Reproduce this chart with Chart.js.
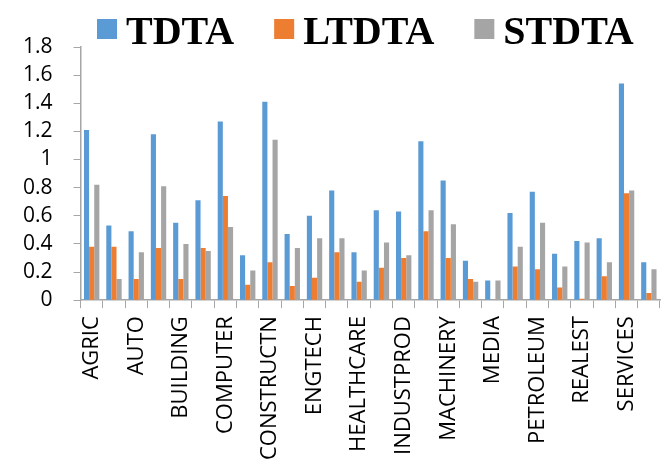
<html>

<head>
    <script src="https://cdn.jsdelivr.net/npm/chart.js"></script>
    <style>
        body { margin: 0; background: #fff; }
    </style>
</head>

<body>
    <canvas id="chart_id" width="668" height="468"></canvas>
    <script>
        // 카테고리 (홀수 번째는 라벨 없음)
        const categories = [
            'AGRIC', '', 'AUTO', '', 'BUILDING', '', 'COMPUTER', '',
            'CONSTRUCTN', '', 'ENGTECH', '', 'HEALTHCARE', '', 'INDUSTPROD', '',
            'MACHINERY', '', 'MEDIA', '', 'PETROLEUM', '', 'REALEST', '',
            'SERVICES', ''
        ];
        const tdta = [1.21, 0.53, 0.49, 1.18, 0.55, 0.71, 1.27, 0.32,
            1.41, 0.47, 0.60, 0.78, 0.34, 0.64, 0.63, 1.13,
            0.85, 0.28, 0.14, 0.62, 0.77, 0.33, 0.42, 0.44,
            1.54, 0.27];
        const ltdta = [0.38, 0.38, 0.15, 0.37, 0.15, 0.37, 0.74, 0.11,
            0.27, 0.10, 0.16, 0.34, 0.13, 0.23, 0.30, 0.49,
            0.30, 0.15, 0.00, 0.24, 0.22, 0.09, 0.01, 0.17,
            0.76, 0.05];
        const stdta = [0.82, 0.15, 0.34, 0.81, 0.40, 0.35, 0.52, 0.21,
            1.14, 0.37, 0.44, 0.44, 0.21, 0.41, 0.32, 0.64,
            0.54, 0.13, 0.14, 0.38, 0.55, 0.24, 0.41, 0.27,
            0.78, 0.22];

        const axisColor = '#A6A6A6';

        // 범례 직접 그리기 (상자-글자 간격을 좁게)
        const topLegend = {
            id: 'topLegend',
            afterDraw(chart) {
                const ctx = chart.ctx;
                ctx.save();
                ctx.font = 'bold 40px "Liberation Serif"';
                ctx.textBaseline = 'alphabetic';
                ctx.textAlign = 'left';
                let x = 97;
                chart.data.datasets.forEach(ds => {
                    ctx.fillStyle = ds.backgroundColor;
                    ctx.fillRect(x, 19, 20, 20);
                    x += 29;
                    ctx.fillStyle = '#000';
                    ctx.fillText(ds.label, x, 44);
                    x += ctx.measureText(ds.label).width + 40;
                });
                ctx.restore();
            }
        };

        new Chart(document.getElementById('chart_id'), {
            type: 'bar',
            data: {
                labels: categories,
                datasets: [
                    { label: 'TDTA', data: tdta, backgroundColor: '#5B9BD5' },
                    { label: 'LTDTA', data: ltdta, backgroundColor: '#ED7D31' },
                    { label: 'STDTA', data: stdta, backgroundColor: '#A5A5A5' }
                ]
            },
            plugins: [topLegend],
            options: {
                responsive: false,
                animation: false,
                layout: { padding: { left: 2, right: 8, top: 47, bottom: 0 } },
                datasets: {
                    bar: { barPercentage: 1, categoryPercentage: 0.69 }
                },
                plugins: {
                    tooltip: { enabled: false },
                    legend: { display: false }
                },
                scales: {
                    x: {
                        // 회전된 라벨 때문에 생기는 좌우 여백 제거
                        afterFit(scale) {
                            scale.paddingLeft = 0;
                            scale.paddingRight = 0;
                        },
                        grid: {
                            offset: true,
                            drawOnChartArea: false,
                            tickLength: 8,
                            color: axisColor
                        },
                        border: { color: axisColor, width: 1.5 },
                        ticks: {
                            autoSkip: false,
                            maxRotation: 90,
                            minRotation: 90,
                            padding: 8,
                            color: '#000',
                            font: { family: 'Open Sans', size: 22 }
                        }
                    },
                    y: {
                        min: 0,
                        max: 1.8,
                        grid: {
                            drawOnChartArea: false,
                            tickLength: 7,
                            color: axisColor
                        },
                        border: { color: axisColor, width: 1.5 },
                        ticks: {
                            stepSize: 0.2,
                            autoSkip: false,
                            padding: 21,
                            color: '#000',
                            font: { family: 'Open Sans', size: 21 },
                            callback: v => String(Number(v.toFixed(1)))
                        }
                    }
                }
            }
        });
    </script>
</body>

</html>
